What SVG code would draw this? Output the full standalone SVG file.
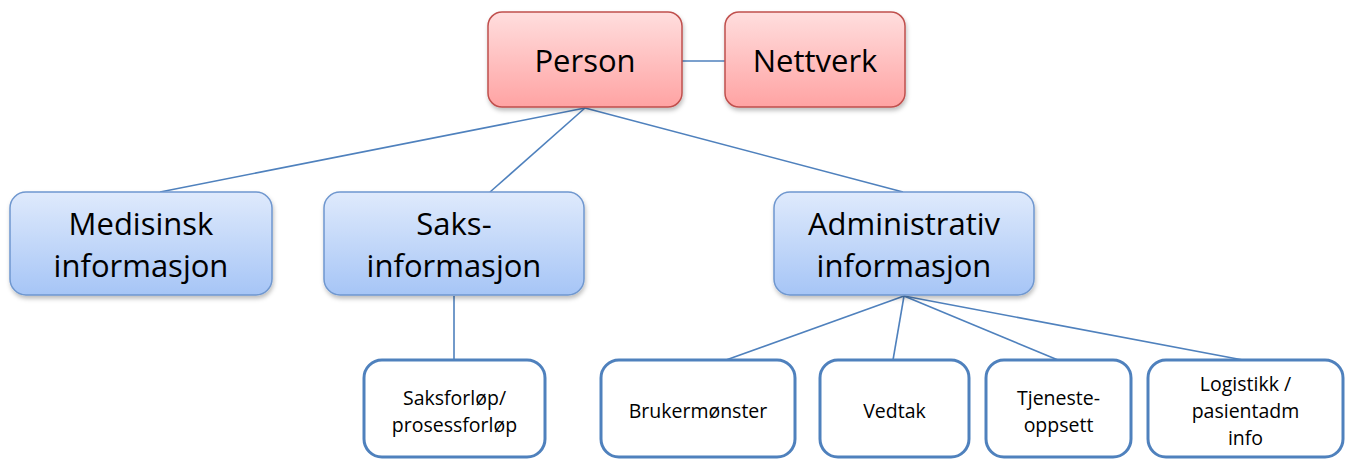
<svg xmlns="http://www.w3.org/2000/svg" width="1351" height="460" viewBox="0 0 1351 460">
  <defs>
    <linearGradient id="gRed" x1="0" y1="0" x2="0" y2="1">
      <stop offset="0" stop-color="#ffdede"/>
      <stop offset="1" stop-color="#ffa3a3"/>
    </linearGradient>
    <linearGradient id="gBlue" x1="0" y1="0" x2="0" y2="1">
      <stop offset="0" stop-color="#dfeafc"/>
      <stop offset="1" stop-color="#a6c5f6"/>
    </linearGradient>
    <filter id="shadow" x="-10%" y="-10%" width="130%" height="140%">
      <feDropShadow dx="1" dy="3" stdDeviation="2" flood-color="#000" flood-opacity="0.25"/>
    </filter>
  </defs>
  <style>
    .red { fill: url(#gRed); stroke: #c0504d; stroke-width: 1.5; filter: url(#shadow); }
    .blue { fill: url(#gBlue); stroke: #6f97cf; stroke-width: 1.5; filter: url(#shadow); }
    .leaf { fill: #ffffff; stroke: #4f81bd; stroke-width: 3; }
    .big { font-family: "Open Sans", "Liberation Sans", sans-serif; font-size: 31px; fill: #000; text-anchor: middle; }
    .small { font-family: "Open Sans", "Liberation Sans", sans-serif; font-size: 19.5px; fill: #000; text-anchor: middle; }
    .conn line { stroke: #4f81bd; stroke-width: 1.6; }
  </style>

  <g id="connectors" class="conn">
    <line x1="682" y1="61" x2="725" y2="61"/>
    <line x1="585" y1="108" x2="160" y2="192"/>
    <line x1="585" y1="108" x2="490" y2="192"/>
    <line x1="585" y1="108" x2="903" y2="192"/>
    <line x1="454" y1="296" x2="454" y2="360"/>
    <line x1="904" y1="296" x2="726" y2="360"/>
    <line x1="904" y1="296" x2="893" y2="360"/>
    <line x1="904" y1="296" x2="1058" y2="360"/>
    <line x1="904" y1="296" x2="1243" y2="360"/>
  </g>

  <g id="person">
    <rect class="red" x="488" y="12" width="194" height="95" rx="14"/>
    <text class="big" x="585" y="72">Person</text>
  </g>
  <g id="nettverk">
    <rect class="red" x="725" y="12" width="180" height="95" rx="14"/>
    <text class="big" x="815" y="72">Nettverk</text>
  </g>

  <g id="medisinsk">
    <rect class="blue" x="10" y="192" width="262" height="103" rx="16"/>
    <text class="big" x="141" y="235">Medisinsk</text>
    <text class="big" x="141" y="277">informasjon</text>
  </g>
  <g id="saks">
    <rect class="blue" x="324" y="192" width="260" height="103" rx="16"/>
    <text class="big" x="454" y="235">Saks-</text>
    <text class="big" x="454" y="277">informasjon</text>
  </g>
  <g id="administrativ">
    <rect class="blue" x="774" y="192" width="260" height="103" rx="16"/>
    <text class="big" x="904" y="235">Administrativ</text>
    <text class="big" x="904" y="277">informasjon</text>
  </g>

  <g id="saksforlop">
    <rect class="leaf" x="364" y="360" width="181" height="97" rx="18"/>
    <text class="small" x="454.5" y="405">Saksforløp/</text>
    <text class="small" x="454.5" y="432">prosessforløp</text>
  </g>
  <g id="brukermonster">
    <rect class="leaf" x="601" y="360" width="194" height="97" rx="18"/>
    <text class="small" x="698" y="418">Brukermønster</text>
  </g>
  <g id="vedtak">
    <rect class="leaf" x="820" y="360" width="149" height="97" rx="18"/>
    <text class="small" x="894.5" y="418">Vedtak</text>
  </g>
  <g id="tjeneste">
    <rect class="leaf" x="986" y="360" width="145" height="97" rx="18"/>
    <text class="small" x="1058.5" y="405">Tjeneste-</text>
    <text class="small" x="1058.5" y="432">oppsett</text>
  </g>
  <g id="logistikk">
    <rect class="leaf" x="1148" y="360" width="195" height="97" rx="18"/>
    <text class="small" x="1245.5" y="391">Logistikk /</text>
    <text class="small" x="1245.5" y="418">pasientadm</text>
    <text class="small" x="1245.5" y="445">info</text>
  </g>
</svg>
